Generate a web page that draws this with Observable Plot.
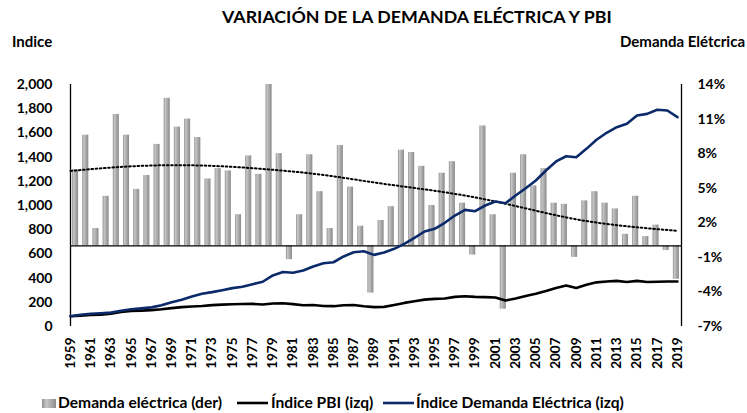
<!DOCTYPE html>
<html><head><meta charset="utf-8">
<script src="https://cdn.jsdelivr.net/npm/d3@7"></script>
<script src="https://cdn.jsdelivr.net/npm/@observablehq/plot@0.6"></script>
<style>
body{margin:0;background:#fff;font-family:Lato,"Open Sans",sans-serif;}
#wrap{position:relative;width:747px;height:413px;overflow:hidden;background:#fff}
#chart{position:absolute;left:0;top:0}
.t{position:absolute;font-weight:bold;color:#000;white-space:nowrap;line-height:1}
.sw{position:absolute}
</style></head><body><div id="wrap">
<div id="chart"></div>
<div class="t" style="left:222px;top:8px;font-size:17.8px">VARIACIÓN DE LA DEMANDA ELÉCTRICA Y PBI</div>
<div class="t" style="left:12px;top:34px;font-size:15px">Indice</div>
<div class="t" style="right:2px;top:34px;font-size:15px">Demanda Elétcrica</div>
<div id="legend"></div>
</div>
<script>
// ---- data ----
const years = [1959,1960,1961,1962,1963,1964,1965,1966,1967,1968,1969,1970,1971,1972,1973,1974,1975,1976,1977,1978,1979,
  1980,1981,1982,1983,1984,1985,1986,1987,1988,1989,1990,1991,1992,1993,1994,1995,1996,1997,1998,1999,
  2000,2001,2002,2003,2004,2005,2006,2007,2008,2009,2010,2011,2012,2013,2014,2015,2016,2017,2018,2019];
const demandIndex = [85,97,105,110,115,130,143,150,158,175,200,222,248,270,284,300,317,328,350,370,422,
  450,444,463,496,523,531,579,614,622,592,612,642,683,733,785,807,857,917,964,953,
  1000,1033,1019,1083,1143,1207,1289,1364,1407,1399,1468,1543,1601,1647,1675,1744,1757,1791,1785,1730];
const pbiIndex = [85,90,95,97,105,120,128,131,135,142,152,160,165,170,177,181,184,186,187,182,190,
  192,185,176,178,170,168,175,178,168,160,162,178,195,208,222,228,232,245,250,245,
  243,240,215,232,252,270,293,318,338,318,345,365,372,377,368,377,368,370,372,372];
const barYears = years.slice(1);
const demandGrowth = [6.6,9.6,1.5,4.3,11.4,9.6,4.9,6.1,8.8,12.8,10.3,11.0,9.4,5.8,6.7,6.5,2.7,7.8,6.2,14.0,
  8.0,-1.2,2.7,7.9,4.7,1.5,8.7,5.1,1.7,-4.1,2.2,3.4,8.3,8.1,6.9,3.5,6.3,7.3,3.7,-0.8,
  10.4,2.7,-5.5,6.3,7.9,5.2,6.7,3.7,3.6,-1.0,3.9,4.7,3.7,3.2,1.0,4.3,0.8,1.8,-0.4,-2.9];
const trendYears = [1959,1964,1969,1974,1979,1984,1989,1994,1999,2004,2009,2014,2019];
const trendValues = [6.5,6.85,7.0,6.9,6.6,6.15,5.5,4.9,4.2,3.25,2.3,1.7,1.3];
const leftTicks = [0,200,400,600,800,1000,1200,1400,1600,1800,2000];
const rightTicks = [-7,-4,-1,2,5,8,11,14];
const xTicks = [1959,1961,1963,1965,1967,1969,1971,1973,1975,1977,1979,1981,1983,1985,1987,1989,1991,1993,1995,1997,1999,2001,2003,2005,2007,2009,2011,2013,2015,2017,2019];

// ---- helpers ----
const toLeft = p => (p + 7) * 2000 / 21;       // right-axis % -> left-axis units
const X0 = 1959, X1 = 2019.4;
const barCenter = yr => X0 + (yr - 1959.5) * ((X1 - X0) / 60); // 60 bar slots across plot
const lineData = years.map((yr, i) => ({yr, pbi: pbiIndex[i], dem: demandIndex[i]}));
const barData = barYears.map((yr, i) => ({yr, g: demandGrowth[i]}));
const trendData = trendYears.map((yr, i) => ({yr, p: trendValues[i]}));

const defs = () => {
  const d = d3.create("svg:defs");
  const g = d.append("linearGradient").attr("id", "barGrad").attr("x1", "0").attr("x2", "1").attr("y1", "0").attr("y2", "0");
  [["0", "#8e8e8e"], ["0.25", "#c6c6c6"], ["0.6", "#a9a9a9"], ["1", "#8a8a8a"]].forEach(([o, c]) =>
    g.append("stop").attr("offset", o).attr("stop-color", c));
  return d.node();
};

const chart = Plot.plot({
  width: 747, height: 413,
  marginLeft: 70, marginRight: 66, marginTop: 84, marginBottom: 87,
  x: {domain: [X0, X1], axis: null},
  y: {domain: [0, 2000], axis: null},
  style: {fontFamily: "Lato, 'Open Sans', sans-serif", fontSize: "14px", fontWeight: "bold", color: "#000", background: "transparent"},
  marks: [
    defs,
    Plot.rect(barData, {
      x1: d => barCenter(d.yr) - 0.3, x2: d => barCenter(d.yr) + 0.3,
      y1: toLeft(0), y2: d => toLeft(d.g), fill: "url(#barGrad)"
    }),
    Plot.ruleY([toLeft(0)], {x1: X0, x2: X1, stroke: "#000", strokeWidth: 1.3}),
    Plot.ruleX([X0, X1], {y1: 0, y2: 2000, stroke: "#000", strokeWidth: 1.3}),
    Plot.line(trendData, {x: "yr", y: d => toLeft(d.p), curve: "natural", stroke: "#000", strokeWidth: 2, strokeDasharray: "1.6 2.6"}),
    Plot.line(lineData, {x: "yr", y: "pbi", stroke: "#000", strokeWidth: 2.6}),
    Plot.line(lineData, {x: "yr", y: "dem", stroke: "#0b2a6a", strokeWidth: 2.6}),
    Plot.axisY(leftTicks, {anchor: "left", tickSize: 0, tickPadding: 18, tickFormat: d3.format(","), fontSize: 14, fontWeight: "bold", label: null}),
    Plot.axisY(rightTicks.map(toLeft), {anchor: "right", tickSize: 0, tickPadding: 16, tickFormat: v => Math.round(v * 21 / 2000 - 7) + "%", fontSize: 14, fontWeight: "bold", label: null}),
    Plot.axisX(xTicks, {anchor: "bottom", tickSize: 0, tickPadding: 11, tickRotate: -90, tickFormat: d => String(d), fontSize: 13.5, fontWeight: "bold", label: null})
  ]
});
document.getElementById("chart").appendChild(chart);

// ---- legend ----
const legend = document.getElementById("legend");
legend.innerHTML = `
<svg class="sw" style="left:42px;top:399px" width="14" height="9"><defs><linearGradient id="lg" x1="0" x2="1"><stop offset="0" stop-color="#8e8e8e"/><stop offset="0.3" stop-color="#c6c6c6"/><stop offset="0.7" stop-color="#a9a9a9"/><stop offset="1" stop-color="#8a8a8a"/></linearGradient></defs><rect width="14" height="9" fill="url(#lg)"/></svg>
<div class="t" style="left:58px;top:395px;font-size:15.6px">Demanda eléctrica (der)</div>
<svg class="sw" style="left:237px;top:401px" width="31" height="4"><line x1="0" x2="31" y1="2" y2="2" stroke="#000" stroke-width="2.6"/></svg>
<div class="t" style="left:271px;top:395px;font-size:15.6px">Índice PBI (izq)</div>
<svg class="sw" style="left:383px;top:401px" width="31" height="4"><line x1="0" x2="31" y1="2" y2="2" stroke="#0b2a6a" stroke-width="2.6"/></svg>
<div class="t" style="left:416px;top:395px;font-size:15.6px">Índice Demanda Eléctrica (izq)</div>`;
</script>
</body></html>
